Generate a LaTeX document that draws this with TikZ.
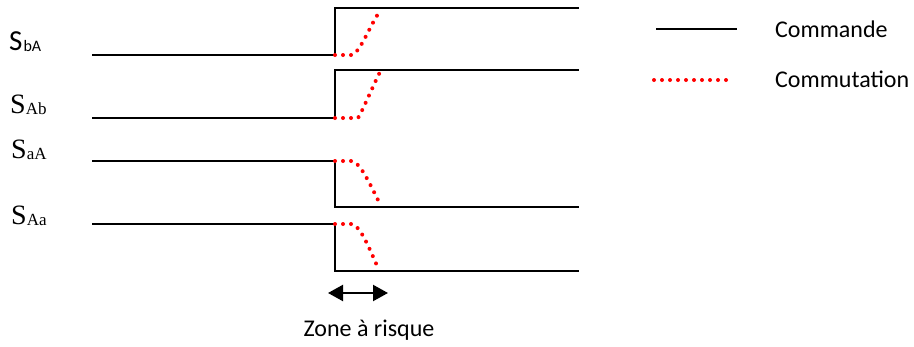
\documentclass[tikz,border=0pt]{standalone}
\usepackage{fontspec}
\setmainfont{Carlito}
\newfontfamily\timesf{Liberation Serif}
\usetikzlibrary{arrows.meta}
\tikzset{
  cmd/.style={line width=2.2pt, black},
  comm/.style={red, line width=4pt, line cap=round, dash pattern=on 0pt off 8pt},
  lbl/.style={inner sep=0pt, anchor=base west},
  legtxt/.style={inner sep=0pt, anchor=base west, font=\fontsize{24}{26}\selectfont},
}
\begin{document}
\begin{tikzpicture}[x=1pt,y=-1pt]
\useasboundingbox (0,0) rectangle (914,346);
% signal 1 SbA
\coordinate (a0) at (92,55); \coordinate (a1) at (335,55); \coordinate (a2) at (335,8); \coordinate (a3) at (579,8);
\draw[cmd] (a0) -- (a1) -- (a2) -- (a3);
\coordinate (ar) at (378,14);
\draw[comm] (a1) -- (352,55) .. controls (360,52) and (368,30) .. (ar);
% signal 2 SAb
\coordinate (b0) at (92,118); \coordinate (b1) at (335,118); \coordinate (b2) at (335,70); \coordinate (b3) at (579,70);
\draw[cmd] (b0) -- (b1) -- (b2) -- (b3);
\coordinate (br) at (380,72);
\draw[comm] (b1) -- (358,118) .. controls (362,112) and (372,88) .. (br);
% signal 3 SaA
\coordinate (c0) at (92,161); \coordinate (c1) at (335,161); \coordinate (c2) at (335,207); \coordinate (c3) at (579,207);
\draw[cmd] (c0) -- (c1) -- (c2) -- (c3);
\coordinate (cr) at (378,200);
\draw[comm] (c1) -- (352,161) .. controls (360,163) and (368,180) .. (cr);
% signal 4 SAa
\coordinate (d0) at (92,224); \coordinate (d1) at (335,224); \coordinate (d2) at (335,271); \coordinate (d3) at (579,271);
\draw[cmd] (d0) -- (d1) -- (d2) -- (d3);
\coordinate (dr) at (378,268);
\draw[comm] (d1) -- (352,224) .. controls (360,226) and (368,245) .. (dr);
% labels
\node[lbl] (lSbA) at (9,50) {\fontsize{29}{30}\selectfont S\kern1pt\raisebox{-1pt}{\fontsize{16}{16}\selectfont bA}};
\node[lbl] (lSAb) at (10,113) {\timesf\fontsize{28}{30}\selectfont S\raisebox{-1pt}{\fontsize{17}{17}\selectfont Ab}};
\node[lbl] (lSaA) at (11,158) {\timesf\fontsize{28}{30}\selectfont S\raisebox{-1pt}{\fontsize{17}{17}\selectfont aA}};
\node[lbl] (lSAa) at (11,224) {\timesf\fontsize{28}{30}\selectfont S\raisebox{-1pt}{\fontsize{17}{17}\selectfont Aa}};
% zone
\coordinate (z0) at (328,293); \coordinate (z1) at (388,293);
\draw[line width=2.2pt, {Triangle[length=15pt,width=16pt]}-{Triangle[length=15pt,width=16pt]}] (z0) -- (z1);
\node[inner sep=0pt, anchor=base, font=\fontsize{24}{26}\selectfont] (zone) at (369,336) {Zone à risque};
% legend
\coordinate (l0) at (656,29); \coordinate (l1) at (737,29);
\draw[cmd] (l0) -- (l1);
\node[legtxt] (tcmd) at (775,37) {Commande};
\coordinate (m0) at (654,80); \coordinate (m1) at (732,80);
\draw[comm] (m0) -- (m1);
\node[legtxt] (tcomm) at (775,87) {Commutation};
\end{tikzpicture}
\end{document}
